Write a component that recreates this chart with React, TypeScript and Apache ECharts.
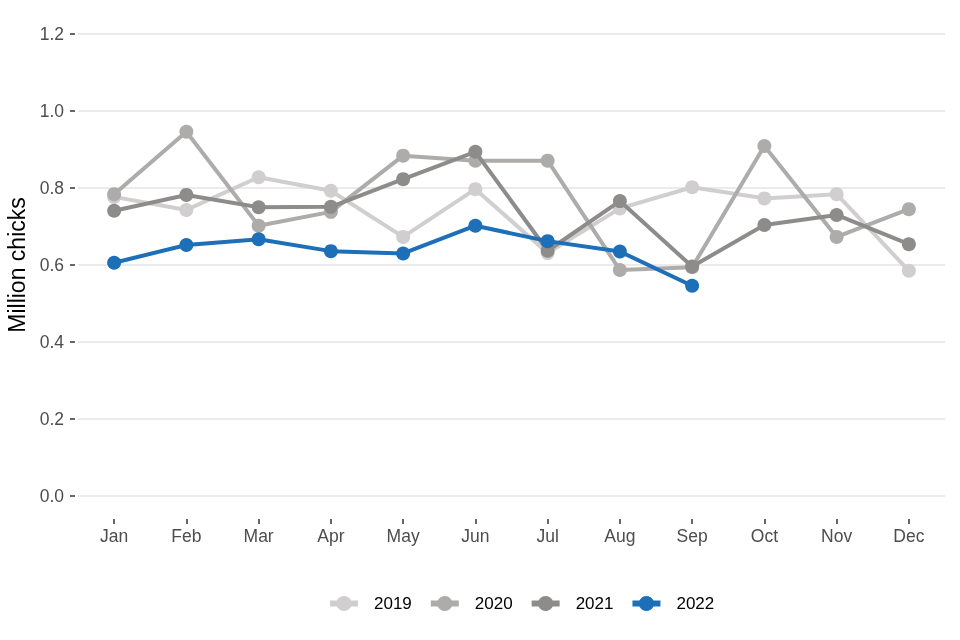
import React, { useEffect, useRef } from "react";
import * as echarts from "echarts";

const months = ["Jan", "Feb", "Mar", "Apr", "May", "Jun", "Jul", "Aug", "Sep", "Oct", "Nov", "Dec"];
const years = ["2019", "2020", "2021", "2022"];
const v2019 = [0.777, 0.743, 0.828, 0.793, 0.673, 0.797, 0.631, 0.747, 0.802, 0.773, 0.784, 0.585];
const v2020 = [0.784, 0.946, 0.702, 0.738, 0.884, 0.871, 0.871, 0.587, 0.594, 0.909, 0.673, 0.745];
const v2021 = [0.741, 0.782, 0.75, 0.751, 0.823, 0.894, 0.637, 0.766, 0.596, 0.704, 0.73, 0.654];
const v2022 = [0.606, 0.652, 0.667, 0.636, 0.63, 0.702, 0.662, 0.635, 0.546];
const colors = ["#d0cece", "#aeabab", "#8e8b8b", "#1d6fb8"];

export default function App() {
  const ref = useRef<HTMLDivElement>(null);
  useEffect(() => {
    if (!ref.current) return;
    const chart = echarts.init(ref.current, undefined, { renderer: "svg" });
    const values = [v2019, v2020, v2021, v2022];
    const font = "'Liberation Sans', Arial, sans-serif";
    chart.setOption({
      animation: false,
      textStyle: { fontFamily: font },
      grid: [
        { left: 78, right: 15, top: 34, bottom: 144, containLabel: false, outerBoundsMode: "none" },
        { left: 78, right: 15, top: 11, bottom: 121, containLabel: false, outerBoundsMode: "none" },
      ],
      legend: {
        data: years,
        top: 590,
        left: 322,
        itemWidth: 28,
        itemHeight: 19,
        itemGap: 16,
        lineStyle: { width: 6 },
        textStyle: { fontSize: 17, color: "#000", fontFamily: font, padding: [0, 0, 0, 11] },
      },
      xAxis: [
        {
          type: "category",
          gridIndex: 0,
          data: months,
          boundaryGap: true,
          axisLine: { show: false },
          axisTick: { show: false },
          axisLabel: { show: false },
          splitLine: { show: false },
        },
        {
          type: "category",
          gridIndex: 1,
          data: months,
          boundaryGap: true,
          axisLine: { show: false },
          axisTick: { show: true, alignWithLabel: true, length: 5, lineStyle: { color: "#333", width: 1.5 } },
          axisLabel: { fontSize: 17.5, color: "#4d4d4d", margin: 8, fontFamily: font },
          splitLine: { show: false },
        },
      ],
      yAxis: [
        {
          type: "value",
          gridIndex: 0,
          min: 0,
          max: 1.2,
          interval: 0.2,
          offset: 3,
          name: "Million chicks",
          nameLocation: "middle",
          nameGap: 43,
          nameTextStyle: { fontSize: 23, color: "#000", fontFamily: font },
          axisLine: { show: false },
          axisTick: { show: true, length: 5, lineStyle: { color: "#333", width: 1.5 } },
          axisLabel: {
            fontSize: 17.5,
            color: "#4d4d4d",
            margin: 11,
            fontFamily: font,
            formatter: (v: number) => v.toFixed(1),
          },
          splitLine: { show: true, lineStyle: { color: "#ebebeb", width: 2 } },
        },
        {
          type: "value",
          gridIndex: 1,
          show: false,
          min: 0,
          max: 1,
          splitLine: { show: false },
        },
      ],
      series: years.map((y, i) => ({
        name: y,
        type: "line",
        xAxisIndex: 0,
        yAxisIndex: 0,
        data: values[i],
        symbol: "circle",
        symbolSize: 14,
        showSymbol: true,
        color: colors[i],
        lineStyle: { width: 4, color: colors[i] },
        itemStyle: { color: colors[i] },
        z: 2 + i,
      })),
    });
    return () => chart.dispose();
  }, []);
  return <div ref={ref} style={{ position: "fixed", left: 0, top: 0, width: 960, height: 640 }} />;
}
